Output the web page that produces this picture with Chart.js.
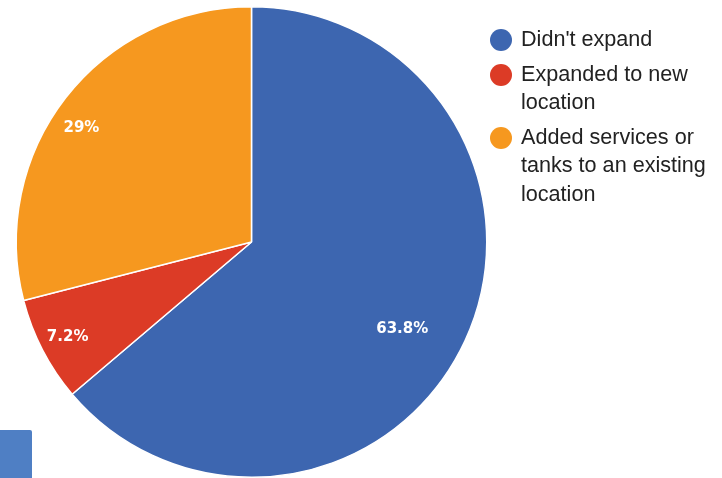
<!DOCTYPE html>
<html>
<head>
<meta charset="utf-8">
<script src="https://cdn.jsdelivr.net/npm/chart.js@4.4.1/dist/chart.umd.min.js"></script>
<style>
  html, body { margin: 0; padding: 0; background: #fff; }
  #wrap { position: relative; width: 722px; height: 478px; overflow: hidden; }
  #pie { position: absolute; left: 0; top: 0; }
  #legend { position: absolute; left: 490px; top: 25px; width: 232px;
    font-family: "Liberation Sans", Arial, sans-serif; font-size: 21.6px; color: #222; }
  .item { display: flex; align-items: flex-start; margin-bottom: 6px; }
  .dot { width: 22px; height: 22px; border-radius: 50%; flex: none; margin-top: 4px; margin-right: 9px; }
  .txt { line-height: 28.5px; white-space: nowrap; }
  #tab { position: absolute; left: 0; top: 430px; width: 32px; height: 48px;
    background: #4f7fc4; border-top-right-radius: 2px; }
</style>
</head>
<body>
<div id="wrap">
  <canvas id="pie" width="722" height="478"></canvas>
  <div id="legend"></div>
  <div id="tab"></div>
</div>
<script>
// ---- data ----
const labels = ["Didn't expand", "Expanded to new location", "Added services or tanks to an existing location"];
const legendLines = [["Didn't expand"], ["Expanded to new", "location"], ["Added services or", "tanks to an existing", "location"]];
const values = [63.8, 7.2, 29];
const colors = ["#3d66b0", "#dc3b26", "#f6981f"];

// label distance from centre, as a share of the radius
const labelDist = [0.74, 0.88, 0.87];
const labelTurn = [0.09, 0, -0.07]; // small angle nudge (radians)

// percent text drawn on each slice
const sliceLabels = {
  id: "sliceLabels",
  afterDatasetsDraw(chart) {
    const ctx = chart.ctx;
    const meta = chart.getDatasetMeta(0);
    ctx.save();
    ctx.fillStyle = "#fff";
    ctx.font = "bold 15px 'DejaVu Sans', Lato, sans-serif";
    ctx.textAlign = "center";
    ctx.textBaseline = "middle";
    meta.data.forEach((arc, i) => {
      const p = arc.getProps(["x", "y", "startAngle", "endAngle", "outerRadius"], true);
      const a = (p.startAngle + p.endAngle) / 2 + labelTurn[i];
      const r = p.outerRadius * labelDist[i];
      ctx.fillText(values[i] + "%", p.x + Math.cos(a) * r, p.y + Math.sin(a) * r);
    });
    ctx.restore();
  }
};

const chart = new Chart(document.getElementById("pie"), {
  type: "pie",
  data: {
    labels,
    datasets: [{
      data: values,
      backgroundColor: colors,
      borderColor: "#fff",
      borderWidth: 1.5
    }]
  },
  options: {
    responsive: false,
    animation: false,
    layout: { padding: { left: 15, top: 6, right: 234, bottom: 0 } },
    plugins: {
      legend: { display: false },
      tooltip: { enabled: false }
    }
  },
  plugins: [sliceLabels]
});

// html legend
const legendEl = document.getElementById("legend");
legendLines.forEach((lines, i) => {
  const item = document.createElement("div");
  item.className = "item";
  const dot = document.createElement("span");
  dot.className = "dot";
  dot.style.background = colors[i];
  const txt = document.createElement("span");
  txt.className = "txt";
  txt.innerHTML = lines.join("<br>");
  item.appendChild(dot);
  item.appendChild(txt);
  legendEl.appendChild(item);
});
</script>
</body>
</html>
